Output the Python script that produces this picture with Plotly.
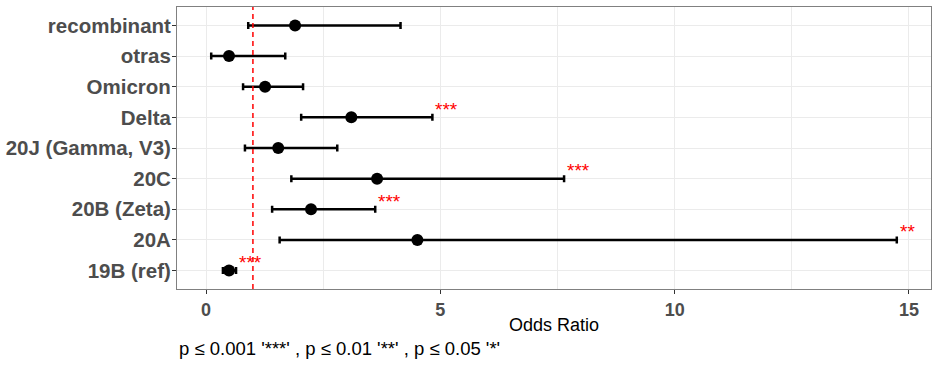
import plotly.graph_objects as go

categories = ["recombinant", "otras", "Omicron", "Delta", "20J (Gamma, V3)",
              "20C", "20B (Zeta)", "20A", "19B (ref)"]
odds_ratio = [1.90, 0.49, 1.26, 3.10, 1.54, 3.65, 2.24, 4.51, 0.49]
ci_low = [0.90, 0.11, 0.79, 2.03, 0.83, 1.82, 1.41, 1.57, 0.36]
ci_high = [4.15, 1.69, 2.07, 4.83, 2.80, 7.64, 3.61, 14.74, 0.64]
signif = ["", "", "", "***", "", "***", "***", "**", "***"]
x_ticks = [0, 5, 10, 15]
caption = "p \u2264 0.001 '***' , p \u2264 0.01 '**' , p \u2264 0.05 '*'"

FONT = "Liberation Sans, Arial, sans-serif"

fig = go.Figure()
fig.add_trace(go.Scatter(
    x=odds_ratio, y=categories, mode="markers",
    marker=dict(color="black", size=12),
    error_x=dict(type="data", symmetric=False,
                 array=[h - o for h, o in zip(ci_high, odds_ratio)],
                 arrayminus=[o - l for o, l in zip(odds_ratio, ci_low)],
                 color="black", thickness=2.5, width=3.5),
    showlegend=False, hoverinfo="skip"))

for cat, hi, s in zip(categories, ci_high, signif):
    if s:
        fig.add_annotation(x=hi, y=cat, text=s, showarrow=False,
                           xanchor="left", yanchor="middle", xshift=1, yshift=8,
                           font=dict(family=FONT, size=19, color="red"))

fig.add_shape(type="line", x0=1, x1=1, xref="x", y0=0, y1=1, yref="paper",
              line=dict(color="red", width=1.5, dash="5px,4px"))

fig.add_annotation(text="Odds Ratio", xref="paper", yref="paper", x=0.5, y=-0.128,
                   xanchor="center", yanchor="middle", showarrow=False,
                   font=dict(family=FONT, size=18, color="black"))
fig.add_annotation(text=caption, xref="paper", yref="paper", x=0.0, y=-0.21,
                   xanchor="left", yanchor="middle", showarrow=False,
                   font=dict(family=FONT, size=18.5, color="black"))

fig.update_layout(
    width=939, height=368,
    margin=dict(l=177, r=8, t=7, b=79, autoexpand=False),
    paper_bgcolor="white", plot_bgcolor="white",
    font=dict(family=FONT),
    xaxis=dict(range=[-0.62, 15.47], tickvals=x_ticks, ticktext=[str(v) for v in x_ticks],
               showgrid=False, zeroline=False, automargin=False,
               ticks="outside", ticklen=4, tickcolor="#333333",
               tickfont=dict(family=FONT, size=18, color="#4D4D4D", weight="bold"),
               showline=True, mirror=True, linecolor="#808080", linewidth=1,
               minor=dict(dtick=2.5, tick0=0, showgrid=True, gridcolor="#EBEBEB", gridwidth=1)),
    yaxis=dict(categoryorder="array", categoryarray=list(reversed(categories)),
               range=[-0.6, 8.6], showgrid=True, gridcolor="#EBEBEB", gridwidth=1,
               zeroline=False, automargin=False, ticks="outside", ticklen=4, tickcolor="#333333",
               ticklabelstandoff=-3,
               tickfont=dict(family=FONT, size=20.5, color="#4D4D4D", weight="bold"),
               showline=True, mirror=True, linecolor="#808080", linewidth=1),
)

fig.write_html("out.html", config={"displayModeBar": False},
               post_script="document.body.style.margin='0';document.body.style.overflow='hidden';")
